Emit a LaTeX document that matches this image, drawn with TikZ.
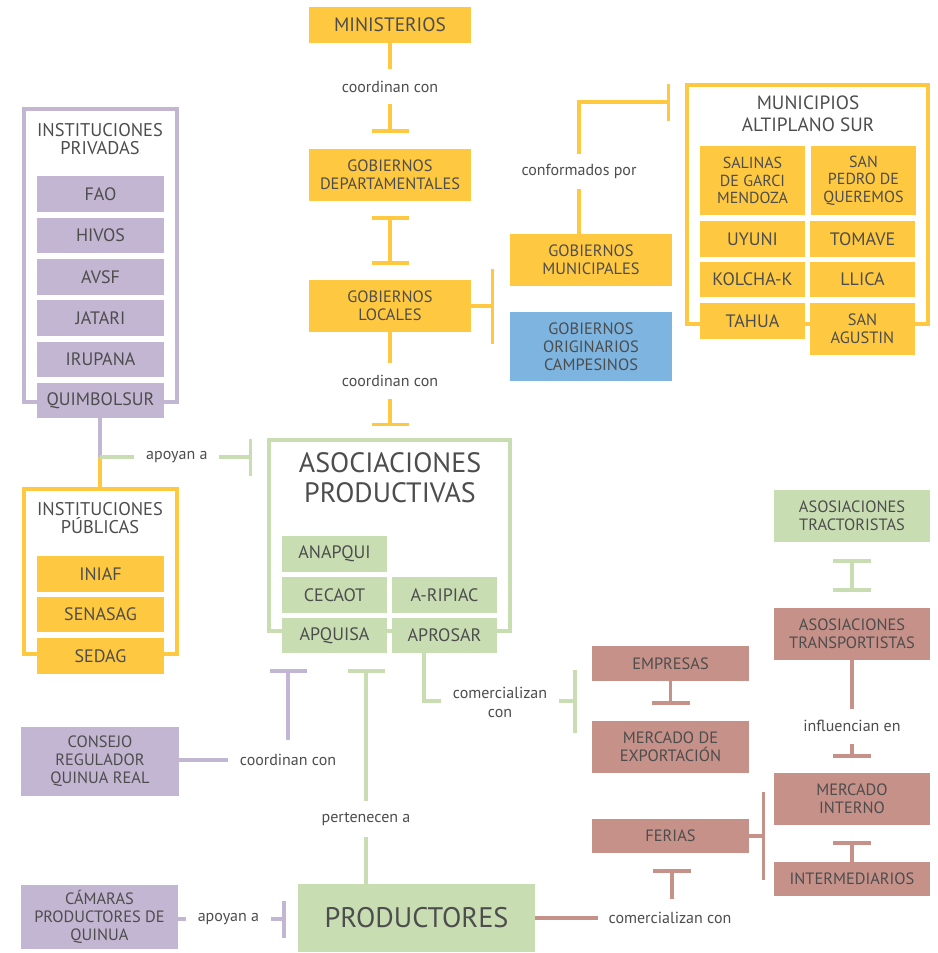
\documentclass[tikz,border=0pt]{standalone}
\usepackage{fontspec}
\setmainfont{PT Sans}
\usetikzlibrary{arrows.meta,calc}
\definecolor{cy}{HTML}{FEC841}
\definecolor{cp}{HTML}{C3B6D2}
\definecolor{cg}{HTML}{C9DDB3}
\definecolor{cr}{HTML}{C59189}
\definecolor{cb}{HTML}{7DB4E0}
\definecolor{tg}{HTML}{4D4D4D}
\newcommand\fsz[2]{\fontsize{#1}{#2}\selectfont}
\begin{document}
\begin{tikzpicture}[x=1pt,y=-1pt,
  box/.style={rectangle, inner sep=0pt, align=center, text=tg},
  yb/.style={box, fill=cy}, pb/.style={box, fill=cp}, gb/.style={box, fill=cg},
  rb/.style={box, fill=cr}, bb/.style={box, fill=cb},
  fsm/.style={font=\fsz{16.4}{18}}, fbig/.style={font=\fsz{18}{20}},
  outl/.style={rectangle, draw=#1, line width=4pt, inner sep=0pt},
  hd/.style={align=center, text=tg, inner sep=0pt},
  conn/.style={draw=#1, line width=3.5pt},
  lbl/.style={fill=white, text=tg, font=\fsz{16}{19}, inner xsep=12pt, inner ysep=0pt, align=center},
]
\useasboundingbox[fill=white] (0,0) rectangle (937,953);

% ---------- outlines ----------
\node[outl=cy, minimum width=241pt, minimum height=239pt] (munbox) at (807.5,204.5) {};
\node[outl=cp, minimum width=153pt, minimum height=293pt] (privbox) at (100.5,255.5) {};
\node[outl=cy, minimum width=153pt, minimum height=165pt] (pubbox) at (100.5,571.5) {};
\node[outl=cg, minimum width=240.5pt, minimum height=191pt] (asoc) at (389.25,535.5) {};

% ---------- headers ----------
\node[hd, font=\fsz{19.2}{22}] (munhd) at (808,114) {MUNICIPIOS\\ALTIPLANO SUR};
\node[hd, font=\fsz{18.4}{18}] (privhd) at (100,139) {INSTITUCIONES\\PRIVADAS};
\node[hd, font=\fsz{18.4}{18}] (pubhd) at (100,518) {INSTITUCIONES\\PÚBLICAS};
\node[hd, font=\fsz{28}{30}] (asochd) at (390,478) {ASOCIACIONES\\PRODUCTIVAS};

% ---------- government ----------
\node[yb, font=\fsz{19.4}{20}, minimum width=162pt, minimum height=36pt] (min) at (390,25) {MINISTERIOS};
\node[yb, fsm, minimum width=162pt, minimum height=52pt] (gdep) at (390,175) {GOBIERNOS\\DEPARTAMENTALES};
\node[yb, fsm, minimum width=162pt, minimum height=52pt] (gloc) at (390,306) {GOBIERNOS\\LOCALES};
\node[yb, fsm, minimum width=162pt, minimum height=52pt] (gmun) at (591,260) {GOBIERNOS\\MUNICIPALES};
\node[bb, fsm, minimum width=162pt, minimum height=69pt] (goc) at (591,346.5) {GOBIERNOS\\ORIGINARIOS\\CAMPESINOS};

% ---------- municipios ----------
\tikzset{mb/.style={yb, minimum width=105pt}}
\node[mb, font=\fsz{16}{17.5}, minimum height=69pt] (sal) at (752.5,180.5) {SALINAS\\DE GARCI\\MENDOZA};
\node[mb, font=\fsz{16}{17.5}, minimum height=69pt] (sped) at (863.5,180.5) {SAN\\PEDRO DE\\QUEREMOS};
\node[mb, fbig, minimum height=36pt] (uyu) at (752.5,239) {UYUNI};
\node[mb, fbig, minimum height=36pt] (tom) at (862.5,239) {TOMAVE};
\node[mb, fbig, minimum height=35pt] (kol) at (752.5,279.5) {KOLCHA-K};
\node[mb, fbig, minimum height=35pt] (llica) at (862.5,279.5) {LLICA};
\node[mb, fbig, minimum height=36pt] (tahua) at (752.5,321) {TAHUA};
\node[mb, font=\fsz{16.4}{17.5}, minimum height=52pt] (sanag) at (862.5,329) {SAN\\AGUSTIN};

% ---------- instituciones privadas ----------
\tikzset{ib/.style={minimum width=127pt, fbig}}
\node[pb, ib, minimum height=36pt] (fao) at (100.5,194) {FAO};
\node[pb, ib, minimum height=35pt] (hivos) at (100.5,235.5) {HIVOS};
\node[pb, ib, minimum height=36pt] (avsf) at (100.5,277) {AVSF};
\node[pb, ib, minimum height=36pt] (jatari) at (100.5,318) {JATARI};
\node[pb, ib, minimum height=35pt] (irupana) at (100.5,359.5) {IRUPANA};
\node[pb, ib, minimum height=35pt] (quim) at (100.5,400.5) {QUIMBOLSUR};

% ---------- instituciones publicas ----------
\node[yb, ib, minimum height=36pt] (iniaf) at (100.5,574) {INIAF};
\node[yb, ib, minimum height=35pt] (senasag) at (100.5,614.5) {SENASAG};
\node[yb, ib, minimum height=36pt] (sedag) at (100.5,656) {SEDAG};

% ---------- asociaciones ----------
\tikzset{ab/.style={gb, fbig, minimum width=105pt}}
\node[ab, minimum height=36pt] (anapqui) at (334.5,554) {ANAPQUI};
\node[ab, minimum height=36pt] (cecaot) at (334.5,595) {CECAOT};
\node[ab, minimum height=36pt] (aripiac) at (444.5,595) {A-RIPIAC};
\node[ab, minimum height=35pt] (apquisa) at (334.5,635.5) {APQUISA};
\node[ab, minimum height=35pt] (aprosar) at (444.5,635.5) {APROSAR};

% ---------- mercado ----------
\node[rb, fsm, minimum width=157pt, minimum height=35pt] (emp) at (670.5,663.5) {EMPRESAS};
\node[rb, fsm, minimum width=157pt, minimum height=52pt] (mex) at (670.5,747) {MERCADO DE\\EXPORTACIÓN};
\node[rb, fsm, minimum width=157pt, minimum height=34pt] (ferias) at (670.5,836) {FERIAS};
\node[gb, fsm, minimum width=156pt, minimum height=52pt] (tract) at (852,516) {ASOSIACIONES\\TRACTORISTAS};
\node[rb, fsm, minimum width=156pt, minimum height=52pt] (transp) at (852,634) {ASOSIACIONES\\TRANSPORTISTAS};
\node[rb, fsm, minimum width=156pt, minimum height=52pt] (mint) at (852,799) {MERCADO\\INTERNO};
\node[rb, fsm, minimum width=156pt, minimum height=34pt] (interm) at (852,879) {INTERMEDIARIOS};

% ---------- bottom left ----------
\node[pb, fsm, minimum width=158pt, minimum height=69pt] (cons) at (100,761.5) {CONSEJO\\REGULADOR\\QUINUA REAL};
\node[pb, fsm, minimum width=157pt, minimum height=64pt] (cam) at (99.5,917) {CÁMARAS\\PRODUCTORES DE\\QUINUA};
\node[gb, font=\fsz{28.3}{30}, minimum width=237pt, minimum height=68pt] (prod) at (416.5,918) {PRODUCTORES};

% ---------- connectors ----------
% ministerios -> departamentales
\draw[conn=cy, -{Bar[width=37pt]}, shorten >=16pt] (min.south) -- (gdep.north)
  node[lbl, pos=0.41, minimum height=35pt] (l1) {coordinan con};
% departamentales <-> locales
\draw[conn=cy, {Bar[width=37pt]}-{Bar[width=37pt]}, shorten <=15pt, shorten >=15pt] (gdep.south) -- (gloc.north);
% locales bracket
\coordinate (glbr) at (494,306);
\draw[conn=cy, -{Bar[width=75pt]}] (gloc.east) -- (glbr);
% locales -> asociaciones
\draw[conn=cy, -{Bar[width=37pt]}, shorten >=12pt] (gloc.south) -- (gloc.south |- asoc.north)
  node[lbl, pos=0.46, minimum height=36pt] (l2) {coordinan con};
% municipales -> municipios
\coordinate (cfc) at (579,102);
\coordinate (cfl) at (579,171);
\draw[conn=cy, -{Bar[width=37pt]}, shorten >=15pt] (gmun.north -| cfc) -- (cfc) -- (cfc -| munbox.west);
\node[lbl, minimum height=35pt] (l3) at (cfl) {conformados por};
% privadas / publicas -> asociaciones
\coordinate (apj) at (100,457);
\draw[conn=cp] (quim.south -| apj) -- (apj);
\draw[conn=cy] (apj) -- (apj |- pubbox.north);
\draw[conn=cg, -{Bar[width=37pt]}, shorten >=15pt] (apj) -- (apj -| asoc.west)
  node[lbl, pos=0.46, minimum height=20pt] (l4) {apoyan a};
% consejo -> asociaciones
\coordinate (cnc) at (288,760);
\draw[conn=cp, -{Bar[width=37pt]}, shorten >=16pt] (cons.east |- cnc) -- (cnc) -- (cnc |- apquisa.south);
\node[lbl, minimum height=40pt] (l5) at (cnc) {coordinan con};
% productores -> asociaciones
\coordinate (pcx) at (366,819);
\draw[conn=cg, -{Bar[width=37pt]}, shorten >=16pt] (prod.north -| pcx) -- (pcx |- apquisa.south);
\node[lbl, minimum height=36pt] (l6) at (pcx) {pertenecen a};
% camaras -> productores
\coordinate (cmy) at (0,919);
\draw[conn=cp, -{Bar[width=37pt]}, shorten >=12pt] (cam.east |- cmy) -- (prod.west |- cmy)
  node[lbl, pos=0.42, minimum height=20pt] (l7) {apoyan a};
% productores -> ferias
\coordinate (pfc) at (672,918);
\draw[conn=cr, -{Bar[width=38pt]}, shorten >=16pt] (prod.east) -- (pfc) -- (pfc |- ferias.south);
\node[lbl, inner xsep=11pt, minimum height=38pt] (l8) at (670,918) {comercializan con};
% asociaciones -> empresas / mercado exportacion
\coordinate (cmc) at (424,701);
\draw[conn=cg, -{Bar[width=63pt]}, shorten >=15pt] (aprosar.south -| cmc) -- (cmc) -- (cmc -| emp.west);
\node[lbl, minimum height=42pt] (l9) at (500,702) {comercializan\\con};
% empresas -> mercado exportacion
\draw[conn=cr, -{Bar[width=38pt]}, shorten >=16pt] (emp.south) -- (mex.north);
% ferias bracket
\coordinate (fbr) at (765,836);
\draw[conn=cr, -{Bar[width=88pt]}] (ferias.east) -- (fbr);
% tractoristas <-> transportistas
\draw[conn=cg, {Bar[width=38pt]}-{Bar[width=38pt]}, shorten <=17pt, shorten >=16pt] (tract.south) -- (transp.north);
% transportistas -> mercado interno
\draw[conn=cr, -{Bar[width=38pt]}, shorten >=15pt] (transp.south) -- (mint.north);
\node[lbl, minimum height=35pt] (l10) at (852,726) {influencian en};
% mercado interno <- intermediarios
\draw[conn=cr, {Bar[width=38pt]}-, shorten <=16pt] (mint.south) -- (interm.north);
\end{tikzpicture}
\end{document}
